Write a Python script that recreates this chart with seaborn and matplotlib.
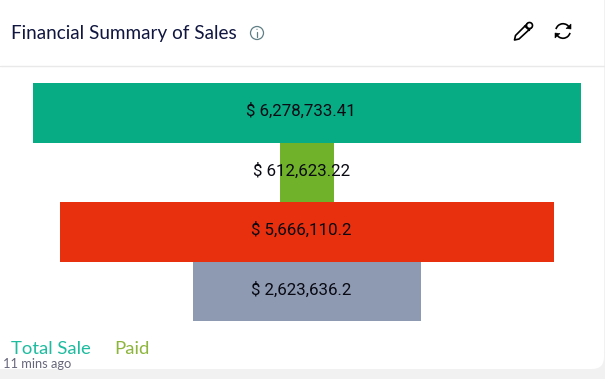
import numpy as np
import pandas as pd
import matplotlib
matplotlib.use("Agg")
import matplotlib.pyplot as plt
from matplotlib.patches import FancyBboxPatch, Circle, Arc, Polygon
from matplotlib.transforms import Affine2D
import seaborn as sns

categories = ["Total Sale", "Paid", "Outstanding", "Collected"]
values = [6278733.41, 612623.22, 5666110.2, 2623636.2]
labels = ["$ 6,278,733.41", "$ 612,623.22", "$ 5,666,110.2", "$ 2,623,636.2"]
colors = ["#07AB84", "#70B22A", "#E82F0E", "#8D9AB2"]
legend_names = ["Total Sale", "Paid"]
legend_colors = ["#1DBB9F", "#8DB53C"]
title = "Financial Summary of Sales"
footer = "11 mins ago"

W, H = 605, 379
sns.set_theme(style="white")
plt.rcParams["font.family"] = ["Lato", "DejaVu Sans"]

fig = plt.figure(figsize=(W / 100, H / 100), dpi=100, facecolor="#F1F1F1")

# card and decorations, in pixel space
bg = fig.add_axes([0, 0, 1, 1], zorder=0)
bg.set_xlim(0, W); bg.set_ylim(H, 0); bg.axis("off")
bg.add_patch(FancyBboxPatch((-20, -20), W - 1 + 20, 389, boxstyle="round,pad=0,rounding_size=12",
                            fc="white", ec="none"))
bg.plot([0, W], [66, 66], color="#E9E9E9", lw=1)

# funnel
ax = fig.add_axes([33 / W, 1 - 321 / H, 548 / W, 238 / H], zorder=1)
df = pd.DataFrame({"category": categories, "value": values})
sns.barplot(data=df, x="value", y="category", hue="category", palette=colors,
            order=categories, hue_order=categories, width=1.0, legend=False,
            saturation=1, ax=ax, linewidth=0)
top = max(values)
for container, v in zip(ax.containers, values):
    for bar in container:
        bar.set_x((top - v) / 2)
ax.set_xlim(0, top)
ax.set_ylim(3.5, -0.5)
ax.axis("off")
for i, lab in enumerate(labels):
    ax.text(top / 2 - top * 0.0105, i - 0.03, lab, ha="center", va="center",
            fontsize=12.2, color="#0A0A14", family=["Roboto", "DejaVu Sans"])

# texts and icons on top
fg = fig.add_axes([0, 0, 1, 1], zorder=2)
fg.set_xlim(0, W); fg.set_ylim(H, 0); fg.axis("off"); fg.patch.set_alpha(0)
fg.text(11, 33, title, fontsize=13.6, color="#10163F", va="center", ha="left")
fg.text(11, 348.5, legend_names[0], fontsize=13.3, color=legend_colors[0], va="center", ha="left")
fg.text(114, 348.5, legend_names[1], fontsize=13.3, color=legend_colors[1], va="center", ha="left")
fg.text(3, 364, footer, fontsize=9.3, color="#66667A", va="center", ha="left")

# info icon
icon = "#5F7F85"
fg.add_patch(Circle((257, 33), 6.5, fc="none", ec=icon, lw=0.9))
fg.plot([257, 257], [32, 36.5], color=icon, lw=0.9)
fg.add_patch(Circle((257, 29.3), 0.6, fc=icon, ec="none"))

# pencil icon
fg.add_patch(Polygon([[527.5, 23.5], [531.5, 27.5], [519, 39], [514.5, 40], [515.5, 35.5]], closed=True,
                     fc="white", ec="black", lw=1.2, joinstyle="round"))
fg.plot([524.5, 529.5], [26, 30.5], color="black", lw=1)
fg.add_patch(Circle((529.5, 25.5), 3, fc="white", ec="black", lw=1.2, zorder=1))

# refresh icon
fg.add_patch(Arc((563, 31), 14.5, 14.5, theta1=195, theta2=335, ec="black", lw=1.2))
fg.add_patch(Arc((563, 31), 14.5, 14.5, theta1=15, theta2=155, ec="black", lw=1.2))
fg.add_patch(Polygon([[571, 24], [571, 29], [566, 28.5]], closed=True, fc="black", ec="black", lw=0.4))
fg.add_patch(Polygon([[555, 38], [555, 33], [560, 33.5]], closed=True, fc="black", ec="black", lw=0.4))

fig.savefig("out.png", dpi=100, facecolor=fig.get_facecolor())
